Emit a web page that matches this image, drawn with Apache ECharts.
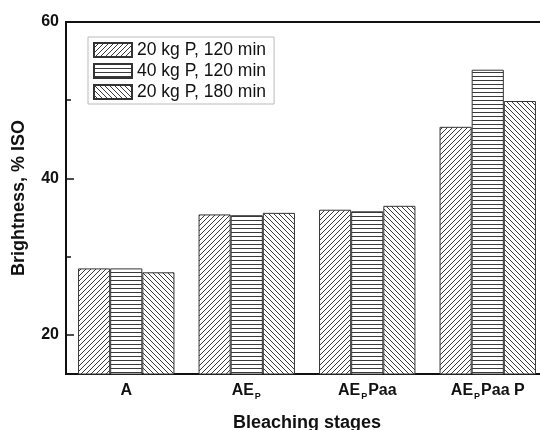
<!DOCTYPE html>
<html>
<head>
<meta charset="utf-8">
<script src="https://cdn.jsdelivr.net/npm/echarts@6/dist/echarts.min.js"></script>
<style>
html,body{margin:0;padding:0;background:#fff;}
#chart{width:540px;height:430px;}
</style>
</head>
<body>
<div id="chart"></div>
<script>
// ---- data ----
var categories = ['A', 'AE_P', 'AE_PPaa', 'AE_PPaa P'];
var seriesNames = ['20 kg P, 120 min', '40 kg P, 120 min', '20 kg P, 180 min'];
var s20kg120 = [28.5, 35.4, 36.0, 46.6];
var s40kg120 = [28.5, 35.3, 35.8, 53.9];
var s20kg180 = [28.0, 35.6, 36.5, 49.9];
var yTickLabels = [20, 40, 60];
var yMinorTicks = [30, 50];

// ---- hatch patterns ----
function makePattern(kind) {
  var s = kind === 'h' ? 4 : 5;
  var c = document.createElement('canvas');
  c.width = s; c.height = s;
  var ctx = c.getContext('2d');
  ctx.fillStyle = '#fff';
  ctx.fillRect(0, 0, s, s);
  ctx.strokeStyle = '#3a3a3a';
  ctx.lineWidth = 1;
  ctx.beginPath();
  if (kind === 'h') {
    ctx.moveTo(0, 0.5); ctx.lineTo(s, 0.5);
  } else if (kind === 'up') {
    ctx.moveTo(0, s); ctx.lineTo(s, 0);
    ctx.moveTo(-1, 1); ctx.lineTo(1, -1);
    ctx.moveTo(s - 1, s + 1); ctx.lineTo(s + 1, s - 1);
  } else {
    ctx.moveTo(0, 0); ctx.lineTo(s, s);
    ctx.moveTo(-1, s - 1); ctx.lineTo(1, s + 1);
    ctx.moveTo(s - 1, -1); ctx.lineTo(s + 1, 1);
  }
  ctx.stroke();
  return { image: c, repeat: 'repeat' };
}
var patterns = [makePattern('up'), makePattern('h'), makePattern('down')];
var values = [s20kg120, s40kg120, s20kg180];

var font = 'Liberation Sans, Arial, sans-serif';
var chart = echarts.init(document.getElementById('chart'), null, { renderer: 'canvas' });

var series = seriesNames.map(function (n, i) {
  return {
    name: n,
    type: 'bar',
    data: values[i],
    barGap: '0%',
    barCategoryGap: '20%',
    itemStyle: { color: patterns[i], borderColor: '#333', borderWidth: 1 }
  };
});

chart.setOption({
  animation: false,
  backgroundColor: '#fff',
  textStyle: { fontFamily: font },
  grid: {
    left: 66, right: -8, top: 22, bottom: 56,
    outerBoundsMode: 'none',
    containLabel: false,
    show: true, borderColor: '#111', borderWidth: 2, backgroundColor: 'transparent'
  },
  legend: {
    orient: 'vertical',
    left: 88, top: 37,
    padding: [4, 8, 3, 5],
    itemWidth: 38, itemHeight: 14, itemGap: 3,
    borderColor: '#bbb', borderWidth: 1,
    icon: 'rect',
    textStyle: { fontFamily: font, fontSize: 17.5, color: '#111' },
    data: seriesNames
  },
  xAxis: {
    type: 'category',
    data: categories,
    name: 'Bleaching stages',
    nameLocation: 'middle',
    nameGap: 40,
    nameTextStyle: { fontFamily: font, fontSize: 18, fontWeight: 'bold', color: '#111' },
    axisLine: { lineStyle: { color: '#111', width: 2 } },
    axisTick: { show: false },
    axisLabel: {
      interval: 0,
      hideOverlap: false,
      margin: 8,
      color: '#111',
      fontSize: 16,
      fontWeight: 'bold',
      fontFamily: font,
      formatter: function (v) {
        return '{b|' + v.replace('_P', '}{s|P}{b|') + '}';
      },
      rich: {
        b: { fontSize: 16, fontWeight: 'bold', fontFamily: font, color: '#111', lineHeight: 18 },
        s: { fontSize: 9, fontWeight: 'bold', fontFamily: font, color: '#111', padding: [12, 1, 0, 1], lineHeight: 18 }
      }
    }
  },
  yAxis: [{
    type: 'value',
    min: 15, max: 60, interval: 5,
    name: 'Brightness, % ISO',
    nameLocation: 'middle',
    nameGap: 38,
    nameTextStyle: { fontFamily: font, fontSize: 18, fontWeight: 'bold', color: '#111' },
    axisLine: { show: true, lineStyle: { color: '#111', width: 2 } },
    axisTick: { show: true, inside: true, length: 8, lineStyle: { color: '#111', width: 1.5 }, customValues: yTickLabels },
    axisLabel: { margin: 7, color: '#111', fontSize: 16, fontWeight: 'bold', fontFamily: font, customValues: yTickLabels },
    splitLine: { show: false }
  }, {
    type: 'value',
    position: 'left',
    min: 15, max: 60, interval: 5,
    axisLine: { show: false },
    axisTick: { show: true, inside: true, length: 5, lineStyle: { color: '#111', width: 1.5 }, customValues: yMinorTicks },
    axisLabel: { show: false },
    splitLine: { show: false }
  }],
  series: series
});
</script>
</body>
</html>
